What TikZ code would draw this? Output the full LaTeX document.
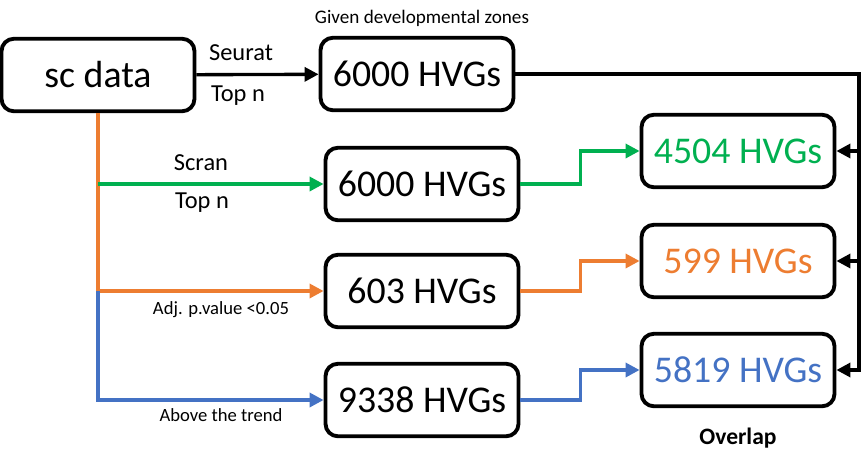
\documentclass[tikz,border=0pt]{standalone}
\usepackage{fontspec}
\setmainfont{Carlito}
\usetikzlibrary{arrows.meta}
\definecolor{hvgreen}{RGB}{0,176,80}
\definecolor{hvorange}{RGB}{237,125,49}
\definecolor{hvblue}{RGB}{68,114,196}
\begin{document}
\begin{tikzpicture}[x=0.02cm, y=-0.02cm,
  box/.style={draw, line width=2.2pt, rounded corners=7pt, minimum width=3.86cm, minimum height=1.45cm, inner sep=0pt, font=\fontsize{21.5}{24}\selectfont},
  lbl/.style={inner sep=0pt, font=\fontsize{13.9}{16}\selectfont},
  small/.style={inner sep=0pt, font=\fontsize{10.6}{12}\selectfont},
  link/.style={line width=1.9pt, -{Triangle[length=8pt,width=8pt]}}]
\useasboundingbox (0,0) rectangle (862,467);

% input and the four selections
\node[box] (sc) at (98,75) {sc data};
\node[box] (top) at (417,74) {6000 HVGs};
\node[box] (scran) at (422,184) {6000 HVGs};
\node[box] (adj) at (422,291) {603 HVGs};
\node[box] (trend) at (422,400) {9338 HVGs};

% overlaps
\node[box, text=hvgreen] (o1) at (738,151) {4504 HVGs};
\node[box, text=hvorange] (o2) at (738,261) {599 HVGs};
\node[box, text=hvblue] (o3) at (738,370) {5819 HVGs};

% labels
\node[small, font=\fontsize{10.9}{12}\selectfont] (zones) at (422,18) {Given developmental zones};
\node[lbl] (seurat) at (241,53) {Seurat};
\node[lbl] (topn1) at (238,96) {Top n};
\node[lbl] (scranl) at (201,163) {Scran};
\node[lbl] (topn2) at (202,203) {Top n};
\node[small] (adjl) at (221,310) {Adj. p.value <0.05};
\node[small] (trendl) at (221,415) {Above the trend};
\node[small, font=\fontsize{13.4}{15}\selectfont\bfseries] (overlap) at (738,438) {Overlap};

% connectors
\coordinate (split) at (sc.south |- adj.west);
\coordinate (rail) at (859,74);
\draw[link] (sc) -- (top);
\draw[link, hvorange] (sc.south) -- (split) -- (adj.west);
\draw[link, hvgreen] (sc.south |- scran.west) -- (scran.west);
\draw[link, hvblue] (split) |- (trend.west);
\draw[link, hvgreen] (scran.east) -- ++(60,0) |- (o1.west);
\draw[link, hvorange] (adj.east) -- ++(60,0) |- (o2.west);
\draw[link, hvblue] (trend.east) -- ++(60,0) |- (o3.west);
\draw[link] (top.east) -- (rail) |- (o3.east);
\draw[link] (rail |- o1.east) -- (o1.east);
\draw[link] (rail |- o2.east) -- (o2.east);
\end{tikzpicture}
\end{document}
